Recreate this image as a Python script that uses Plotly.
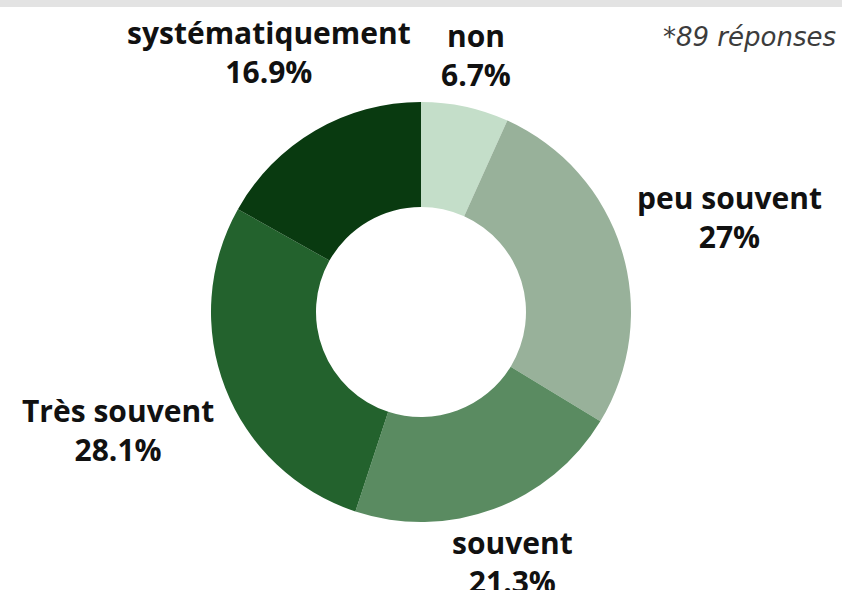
import math
import plotly.graph_objects as go

# reponses (89 au total)
labels = ["non", "peu souvent", "souvent", "Très souvent", "systématiquement"]
counts = [6, 24, 19, 25, 15]
colors = ["#c4dec9", "#98b19a", "#5a8b61", "#23622d", "#093a10"]

total = sum(counts)
pct_txt = [f"{round(c / total * 100, 1):g}%" for c in counts]

W, H = 842, 590
cx, cy, r = 421, 312, 210
# distance (px) du centre du donut au centre de chaque etiquette
label_dist = [263, 323, 266, 325, 301]

fig = go.Figure()
fig.add_trace(go.Pie(
    labels=labels,
    values=counts,
    textinfo="none",
    marker=dict(colors=colors, line=dict(width=0)),
    hole=0.5,
    sort=False,
    direction="clockwise",
    rotation=0,
    showlegend=False,
    hoverinfo="label+value+percent",
    domain=dict(x=[(cx - r) / W, (cx + r) / W],
                y=[(H - cy - r) / H, (H - cy + r) / H]),
))

# etiquettes placees a l'angle median de chaque part
cum = 0
for lab, c, txt, d in zip(labels, counts, pct_txt, label_dist):
    theta = (cum + c / 2) / total * 2 * math.pi
    cum += c
    px = cx + d * math.sin(theta)
    py = cy - d * math.cos(theta)
    fig.add_annotation(
        text=f"{lab}<br>{txt}",
        x=px / W, y=1 - py / H, xref="paper", yref="paper",
        xanchor="center", yanchor="middle",
        showarrow=False,
        font=dict(family="Open Sans", size=30, color="#111111", weight="bold"),
    )

fig.add_annotation(
    text="<i>*89 réponses</i>",
    x=838 / W, y=1 - 37 / H, xref="paper", yref="paper",
    xanchor="right", yanchor="middle",
    showarrow=False,
    font=dict(family="DejaVu Sans", size=26, color="#3c3c3c"),
)

# bande grise en haut
fig.add_shape(type="rect", xref="paper", yref="paper",
              x0=0, x1=1, y0=1 - 7 / H, y1=1,
              fillcolor="#e3e3e3", line=dict(width=0), layer="below")

fig.update_layout(
    width=W, height=H,
    margin=dict(l=0, r=0, t=0, b=0),
    paper_bgcolor="white",
    plot_bgcolor="white",
)

fig.write_html("out.html", config={"displayModeBar": False},
               post_script="document.body.style.margin='0';")
